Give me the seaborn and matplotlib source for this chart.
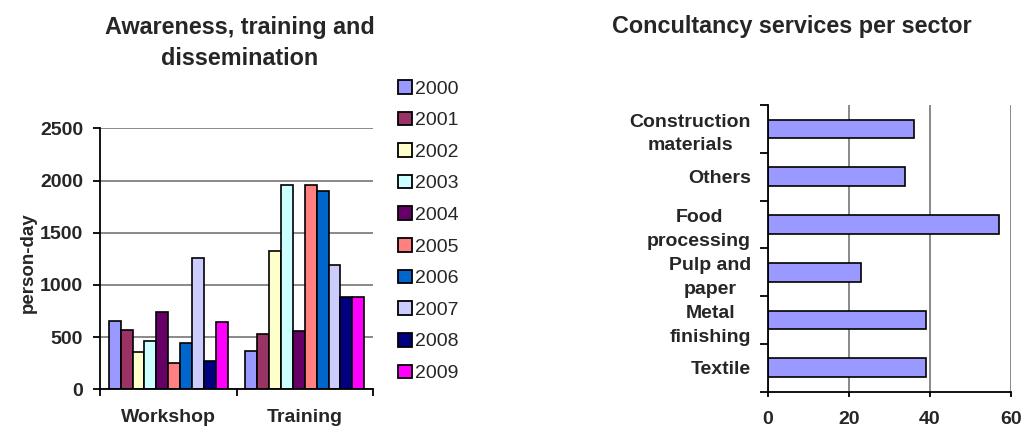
import numpy as np
import pandas as pd
import matplotlib
matplotlib.use('Agg')
import matplotlib.pyplot as plt
from matplotlib.patches import Patch
import seaborn as sns

# values
activities = ['Workshop', 'Training']
years = ['2000', '2001', '2002', '2003', '2004', '2005', '2006', '2007', '2008', '2009']
workshop = [650, 570, 360, 460, 740, 250, 440, 1260, 275, 640]
training = [370, 530, 1320, 1955, 560, 1955, 1900, 1190, 880, 880]
year_colors = ['#9999FF', '#993366', '#FFFFCC', '#CCFFFF', '#660066',
               '#FF8080', '#0066CC', '#CCCCFF', '#000080', '#FF00FF']

sectors = ['Construction\nmaterials', 'Others', 'Food\nprocessing',
           'Pulp and\npaper', 'Metal\nfinishing', 'Textile']
services = [36, 34, 57, 23, 39, 39]

W, H = 1023, 428
GRID = '#808080'

sns.set_style('white')
plt.rcParams['font.family'] = ['Liberation Sans', 'DejaVu Sans']
plt.rcParams['font.weight'] = 'bold'


def frac(x0, y_top, x1, y_bot):
    """pixel box -> figure fraction [left, bottom, width, height]"""
    return [x0 / W, 1 - y_bot / H, (x1 - x0) / W, (y_bot - y_top) / H]


# long table for the grouped bars
act_df = pd.DataFrame({
    'activity': np.repeat(activities, len(years)),
    'year': years * len(activities),
    'person_day': workshop + training,
})
sec_df = pd.DataFrame({'sector': sectors, 'count': services})

fig = plt.figure(figsize=(W / 100, H / 100), dpi=100)
ax1 = fig.add_axes(frac(100, 128.3, 373, 389.3))
ax2 = fig.add_axes(frac(767.7, 105, 1010.7, 391.7))

# left: awareness, training and dissemination
sns.barplot(data=act_df, x='activity', y='person_day', hue='year',
            hue_order=years, palette=year_colors, order=activities,
            width=0.87, saturation=1, edgecolor='black', linewidth=1.2,
            legend=False, ax=ax1)
ax1.set_ylim(0, 2500)
ax1.set_xlim(-0.5, 1.5)
ax1.set_yticks(np.arange(0, 2501, 500))
ax1.set_axisbelow(True)
ax1.yaxis.grid(True, color=GRID, lw=1.3)
ax1.xaxis.grid(False)
ax1.set_xticks([-0.5, 0.5, 1.5])
ax1.set_xticklabels([])
ax1.set_xticks([0, 1], minor=True)
ax1.set_xticklabels(activities, minor=True)
ax1.tick_params(axis='x', which='major', direction='out', length=5, width=1.3, color='black', bottom=True)
ax1.tick_params(axis='x', which='minor', length=0, pad=14.5, labelsize=14, bottom=True)
ax1.tick_params(axis='y', direction='out', length=5.3, width=1.3, color='black', pad=6.8, labelsize=14, left=True)
ax1.set_xlabel('')
ax1.set_ylabel('')
for side in ['top', 'right']:
    ax1.spines[side].set_visible(False)
for side in ['left', 'bottom']:
    ax1.spines[side].set_color('black')
    ax1.spines[side].set_linewidth(1.3)

fig.text(28.7 / W, 1 - 262.5 / H, 'person-day', rotation=90, ha='center', va='center',
         fontsize=13.5, fontweight='bold')
fig.text(240 / W, 1 - 43 / H, 'Awareness, training and\ndissemination', ha='center', va='center',
         fontsize=16.8, fontweight='bold', linespacing=1.4)

handles = [Patch(facecolor=c, edgecolor='black', linewidth=1.3) for c in year_colors]
fig.legend(handles, years, loc='upper left', bbox_to_anchor=(398 / W, 1 - 80 / H),
           frameon=False, prop={'size': 14, 'weight': 'normal'},
           handlelength=0.7, handleheight=0.7, handletextpad=0.2,
           labelspacing=0.72, borderpad=0, borderaxespad=0)

# right: consultancy services per sector
sns.barplot(data=sec_df, x='count', y='sector', order=sectors, orient='h',
            color='#9999FF', saturation=1, width=0.39,
            edgecolor='black', linewidth=1.2, ax=ax2)
ax2.set_xlim(0, 60)
ax2.set_ylim(len(sectors) - 0.5, -0.5)
ax2.set_xticks([0, 20, 40, 60])
ax2.set_axisbelow(True)
ax2.xaxis.grid(True, color=GRID, lw=1.3)
ax2.yaxis.grid(False)
ax2.set_yticks(np.arange(-0.5, len(sectors), 1))
ax2.set_yticklabels([])
ax2.set_yticks(range(len(sectors)), minor=True)
ax2.set_yticklabels(sectors, minor=True)
for lbl in ax2.get_yticklabels(minor=True):
    lbl.set_multialignment('center')
    lbl.set_linespacing(1.5)
ax2.tick_params(axis='y', which='major', direction='out', length=5.5, width=1.3, color='black', left=True)
ax2.tick_params(axis='y', which='minor', length=0, pad=12, labelsize=14, left=True)
ax2.tick_params(axis='x', direction='out', length=3.5, width=1.3, color='black', pad=10.5, labelsize=14, bottom=True)
ax2.set_xlabel('')
ax2.set_ylabel('')
for side in ['top', 'right']:
    ax2.spines[side].set_visible(False)
for side in ['left', 'bottom']:
    ax2.spines[side].set_color('black')
    ax2.spines[side].set_linewidth(1.3)

fig.text(792 / W, 1 - 27 / H, 'Concultancy services per sector', ha='center', va='center',
         fontsize=16.8, fontweight='bold')

fig.savefig('out.png', dpi=100)
